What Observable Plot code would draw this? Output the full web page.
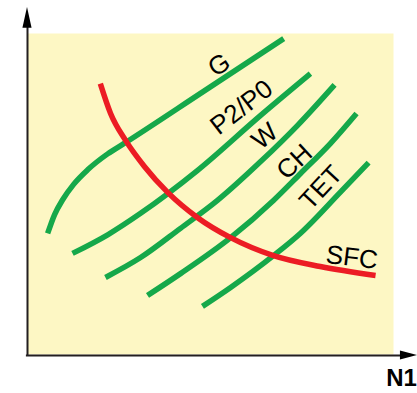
<!DOCTYPE html>
<html>
<head>
<meta charset="utf-8">
<script src="https://cdn.jsdelivr.net/npm/d3@7"></script>
<script src="https://cdn.jsdelivr.net/npm/@observablehq/plot@0.6"></script>
<style>
  html, body { margin: 0; padding: 0; background: #fff; }
  #chart svg { display: block; }
</style>
</head>
<body>
<div id="chart"></div>
<script>
// Engine parameter curves against fan speed N1 (relative units, 0–100 on both axes).
const gN1 = [5.5, 7.4, 9.6, 12.6, 16.5, 21.9, 26.2, 48, 70];
const gVal = [37.7, 43.6, 48.2, 53.0, 57.6, 62.5, 65.6, 81.9, 98.4];

const p2p0N1 = [12.3, 21.9, 30.9, 46.4, 63.7, 77.3];
const p2p0Val = [31.5, 37.3, 44.0, 57.3, 74.5, 87.5];

const wN1 = [21.3, 30.9, 41.8, 51.9, 63.7, 73.8, 83.9];
const wVal = [24.0, 30.2, 39.3, 48.0, 60.1, 71.4, 84.0];

const chN1 = [32.8, 41.8, 55.5, 67.2, 74.6, 82.8, 89.9];
const chVal = [18.4, 25.2, 36.4, 48.0, 56.4, 65.8, 75.1];

const tetN1 = [47.8, 55.5, 67.2, 74.6, 85.5, 93.2];
const tetVal = [15.0, 20.9, 30.8, 37.8, 50.6, 59.8];

const sfcN1 = [19.9, 22.7, 26.8, 32.0, 38.3, 46.4, 55.5, 67.2, 80.0, 95.1];
const sfcVal = [84.4, 75.1, 66.7, 58.5, 50.5, 42.7, 36.4, 30.8, 27.4, 24.6];

// Curve labels: text, anchor position and slant
const labelText = ["G", "P2/P0", "W", "CH", "TET", "SFC"];
const labelN1 = [52.4, 58.5, 64.8, 73.0, 80.2, 88.6];
const labelVal = [90.2, 77.0, 68.0, 60.0, 52.0, 30.2];
const labelAngle = [-33, -38, -40, -43, -47, 7];

const axisLabel = "N1";

const GREEN = "#15a84a";
const RED = "#ec1c24";
const PANEL = "#fdf7c4";
const INK = "#231f20";

const toPoints = (xs, ys) => xs.map((x, i) => ({x, y: ys[i]}));

const greenSeries = [
  toPoints(gN1, gVal),
  toPoints(p2p0N1, p2p0Val),
  toPoints(wN1, wVal),
  toPoints(chN1, chVal),
  toPoints(tetN1, tetVal)
];
const sfc = toPoints(sfcN1, sfcVal);
const labels = labelText.map((t, i) => ({t, x: labelN1[i], y: labelVal[i], a: labelAngle[i]}));

// Axis arrows run a little past the plotting panel
const yArrowHead = [{y: 101.6, x1: -1.25, x2: 1.25}, {y: 108.1, x1: 0, x2: 0}];
const xArrowHead = [{x: 101.9, y1: -1.7, y2: 1.1}, {x: 106.6, y1: -0.3, y2: -0.3}];

const lineStyle = {x: "x", y: "y", curve: "monotone-x", strokeWidth: 5.5, strokeLinecap: "butt"};

const chart = Plot.plot({
  width: 417,
  height: 393,
  marginLeft: 27,
  marginRight: 24,
  marginTop: 33,
  marginBottom: 39,
  x: {domain: [0, 100], axis: null},
  y: {domain: [0, 100], axis: null},
  style: {fontFamily: "'Liberation Sans', Arial, Helvetica, sans-serif", background: "#fff"},
  marks: [
    Plot.frame({fill: PANEL, stroke: null}),
    ...greenSeries.map(s => Plot.line(s, {...lineStyle, stroke: GREEN})),
    Plot.line(sfc, {...lineStyle, stroke: RED}),
    Plot.text(labels, {
      x: "x", y: "y", text: "t", rotate: "a",
      fontSize: 26, fill: "#000", textAnchor: "middle", lineAnchor: "middle"
    }),
    // axes
    Plot.ruleX([0], {y1: -0.3, y2: 102, stroke: INK, strokeWidth: 2}),
    Plot.ruleY([-0.3], {x1: -0.3, x2: 102.5, stroke: INK, strokeWidth: 2}),
    Plot.areaX(yArrowHead, {y: "y", x1: "x1", x2: "x2", fill: "#000"}),
    Plot.areaY(xArrowHead, {x: "x", y1: "y1", y2: "y2", fill: "#000"}),
    Plot.text([axisLabel], {
      x: 102.2, y: -7.3, text: d => d,
      fontFamily: "'Liberation Sans Narrow', 'Liberation Sans', Arial, sans-serif",
      fontSize: 24, fontWeight: "bold", fill: "#000", textAnchor: "middle", lineAnchor: "middle"
    })
  ]
});

document.getElementById("chart").appendChild(chart);
</script>
</body>
</html>
